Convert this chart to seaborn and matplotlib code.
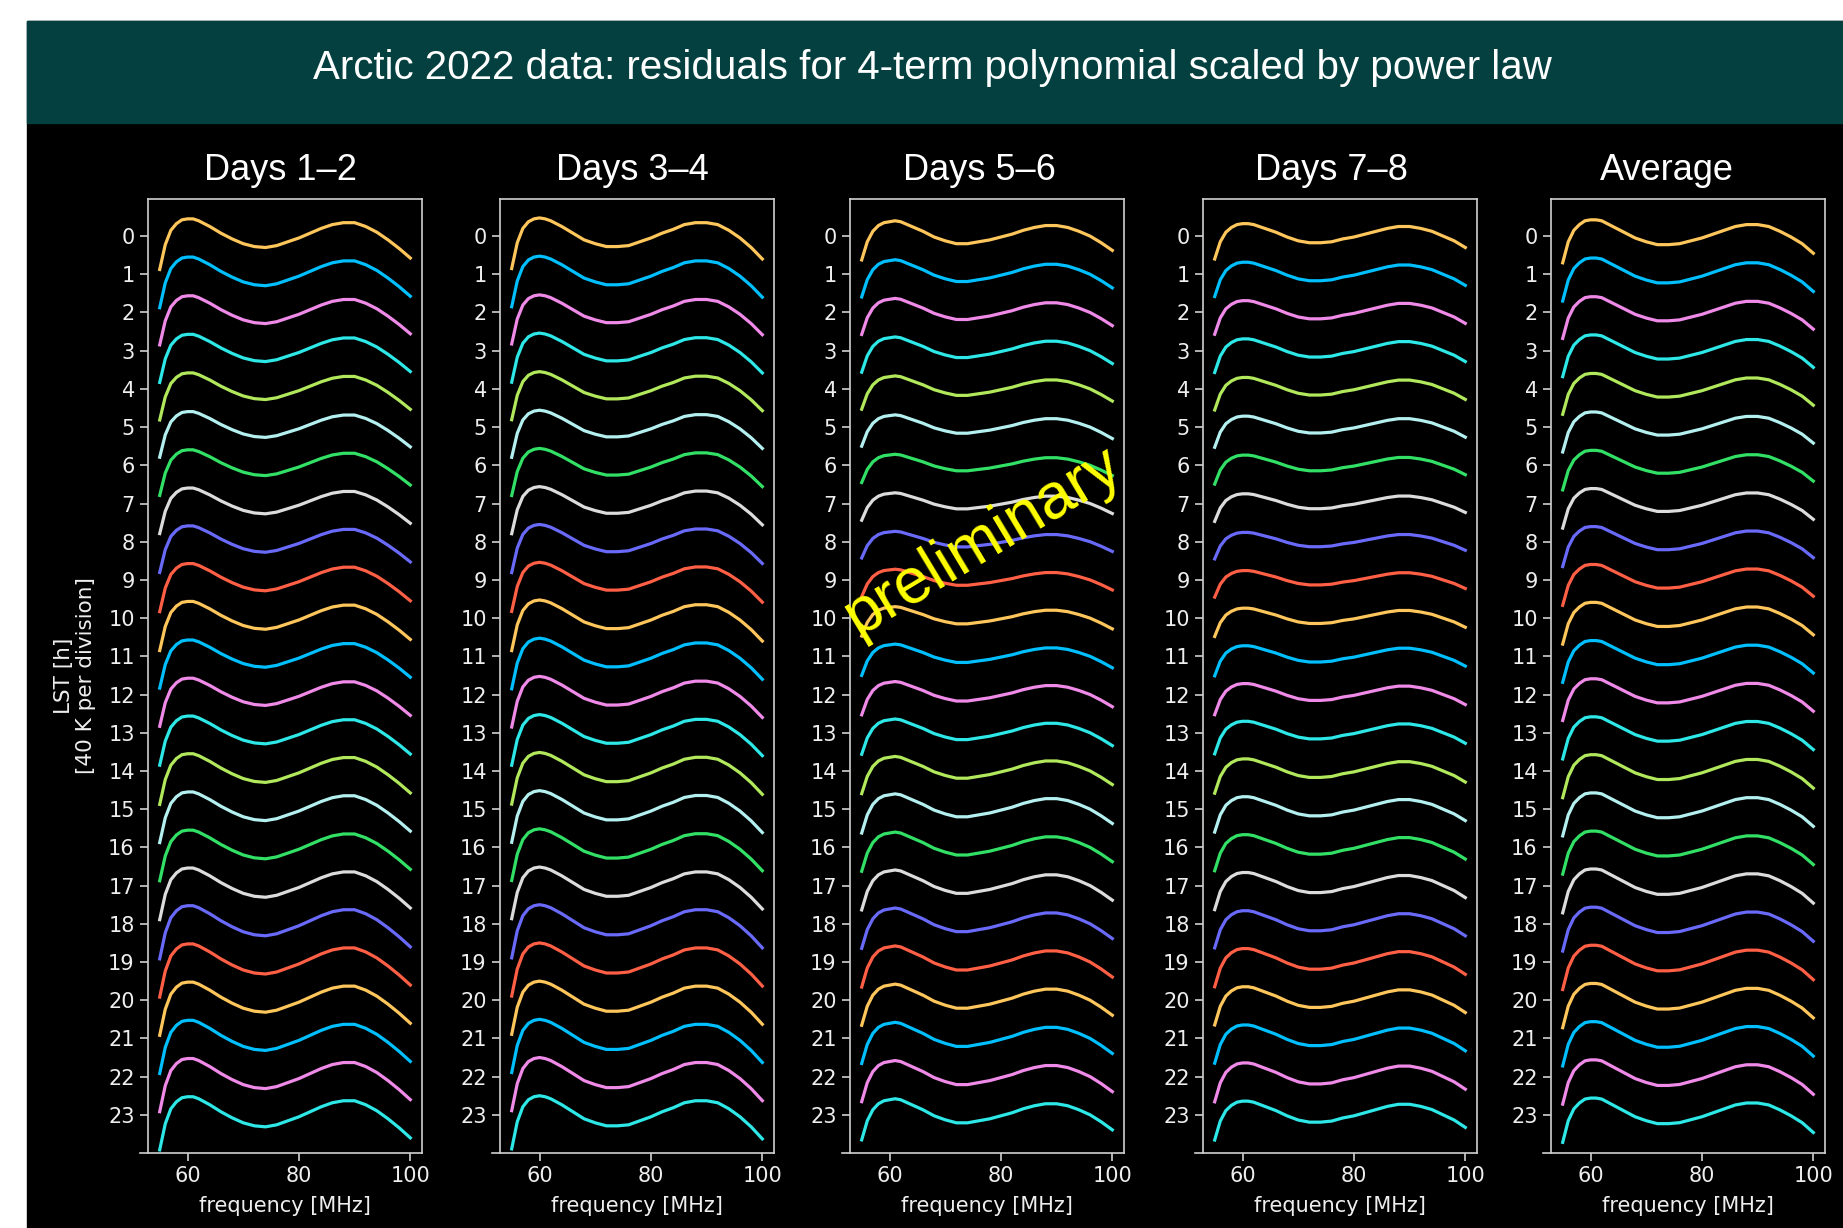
import numpy as np
import pandas as pd
import seaborn as sns
import matplotlib.pyplot as plt
from matplotlib.patches import Rectangle

# frequency grid [MHz] and residual profiles [K]
freq = [55, 56, 57, 58, 59, 60, 61, 62, 64, 66, 68, 70, 72, 74, 76, 78, 80,
        82, 84, 86, 88, 90, 92, 94, 96, 98, 100]

panels = ["Days 1\u20132", "Days 3\u20134", "Days 5\u20136", "Days 7\u20138", "Average"]

resid_d12 = [-35, -9, 6, 13, 17, 18, 18, 16, 10, 3, -3, -8, -11, -12, -10, -6, -2,
             3, 8, 12, 14, 14, 10, 4, -4, -13, -23]
resid_d34 = [-34, -7, 8, 15, 18, 19, 18, 16, 10, 3, -4, -8, -11, -11, -10, -6, -2,
             3, 7, 12, 14, 14, 12, 6, -2, -12, -24]
resid_d56 = [-25, -6, 5, 11, 14, 15, 16, 15, 10, 5, -1, -5, -8, -8, -6, -4, -1,
             2, 6, 9, 11, 11, 9, 5, 0, -7, -15]
resid_d78 = [-24, -6, 4, 9, 12, 13, 13, 12, 8, 4, -1, -5, -7, -7, -6, -3, -1,
             2, 5, 8, 10, 10, 8, 5, 0, -5, -12]
resid_avg = [-28, -6, 6, 12, 16, 17, 17, 16, 10, 4, -2, -6, -9, -9, -8, -5, -2,
             2, 6, 10, 12, 12, 10, 5, -1, -8, -18]

# relative amplitude of each LST curve per panel
gain_d12 = [1.0, 1.0, 0.97, 0.95, 0.93, 0.9, 0.9, 0.9, 0.92, 0.95, 0.97, 0.95,
            0.95, 0.97, 1.0, 1.0, 1.0, 1.02, 1.05, 1.05, 1.05, 1.05, 1.05, 1.05]
gain_d34 = [1.0, 1.0, 0.97, 0.97, 0.95, 0.93, 0.93, 0.93, 0.95, 0.97, 1.0, 1.0,
            1.0, 1.0, 1.02, 1.02, 1.02, 1.02, 1.05, 1.05, 1.05, 1.05, 1.05, 1.05]
gain_d56 = [1.0, 0.95, 0.92, 0.9, 0.85, 0.8, 0.72, 0.7, 0.68, 0.7, 0.75, 0.8,
            0.85, 0.9, 0.95, 1.0, 1.0, 1.02, 1.03, 1.05, 1.05, 1.05, 1.05, 1.05]
gain_d78 = [1.0, 0.97, 0.95, 0.95, 0.92, 0.88, 0.82, 0.78, 0.75, 0.75, 0.8, 0.85,
            0.88, 0.92, 0.97, 1.0, 1.02, 1.05, 1.05, 1.08, 1.08, 1.08, 1.1, 1.1]
gain_avg = [1.0, 1.0, 0.97, 0.97, 0.95, 0.93, 0.92, 0.92, 0.93, 0.95, 0.97, 0.97,
            0.97, 0.98, 1.0, 1.0, 1.0, 1.02, 1.02, 1.03, 1.03, 1.03, 1.03, 1.03]

lst = list(range(24))
colors10 = ["#FFC65C", "#00BFFF", "#F08AE8", "#2EE8E8", "#B2E85C",
            "#B4F0F0", "#33E066", "#DCDCDC", "#6A6AFA", "#FF5F45"]

profiles = [resid_d12, resid_d34, resid_d56, resid_d78, resid_avg]
gains = [gain_d12, gain_d34, gain_d56, gain_d78, gain_avg]

rows = []
for name, prof, gain in zip(panels, profiles, gains):
    for h in lst:
        for f, r in zip(freq, prof):
            # 40 K per division, LST offset downward
            rows.append((name, h, f, h - gain[h] * r / 40.0))
df = pd.DataFrame(rows, columns=["panel", "lst", "freq", "y"])
palette = {h: colors10[h % 10] for h in lst}

plt.rcParams["font.family"] = ["DejaVu Sans"]
W, H = 1843, 1228
fig = plt.figure(figsize=(W / 100, H / 100), dpi=100, facecolor="white")

# slide background: black body, teal title bar
fig.patches.append(Rectangle((27 / W, 0), 1 - 27 / W, 1 - 21 / H,
                             transform=fig.transFigure, color="black", zorder=-2))
fig.patches.append(Rectangle((27 / W, 1 - 123 / H), 1 - 27 / W, 102 / H,
                             transform=fig.transFigure, color="#03403F", zorder=-1))
fig.text(0.506, 1 - 79 / H,
         "Arctic 2022 data: residuals for 4-term polynomial scaled by power law",
         ha="center", va="baseline", color="white", fontsize=29,
         family=["Liberation Sans", "DejaVu Sans"])

lefts = [148, 500, 850, 1203, 1551]
title_x = [0.482, 0.482, 0.474, 0.467, 0.423]
spine_c = "#D0D0D0"
for i, (name, x0) in enumerate(zip(panels, lefts)):
    ax = fig.add_axes([x0 / W, 1 - 1153 / H, 274 / W, 954 / H])
    ax.set_facecolor("black")
    sns.lineplot(data=df[df["panel"] == name], x="freq", y="y", hue="lst",
                 palette=palette, legend=False, estimator=None, linewidth=2.3,
                 ax=ax)
    ax.set_xlim(52.9, 102.1)
    ax.set_ylim(24.0, -0.97)
    ax.set_xticks([60, 80, 100])
    ax.set_yticks(lst)
    ax.tick_params(colors=spine_c, labelcolor="#EEEEEE", labelsize=15,
                   length=6, width=1.2)
    for s in ax.spines.values():
        s.set_color(spine_c)
        s.set_linewidth(1.2)
    ax.spines["bottom"].set_bounds(51.4, 102.1)
    ax.set_xlabel("frequency [MHz]", color="#EEEEEE", fontsize=15, labelpad=7)
    if i == 0:
        ax.set_ylabel("LST [h]\n[40 K per division]", color="#EEEEEE",
                      fontsize=15.5, linespacing=1.1, labelpad=9)
    else:
        ax.set_ylabel("")
    ax.set_title(name, color="white", fontsize=26, pad=14, x=title_x[i],
                 family=["Liberation Sans", "DejaVu Sans"])

fig.text(983 / W, 1 - 541 / H, "preliminary", color="#FFFF00", fontsize=46,
         rotation=31, ha="center", va="center", rotation_mode="anchor",
         family=["Liberation Sans", "DejaVu Sans"], zorder=10)

fig.savefig("out.png", dpi=100, facecolor=fig.get_facecolor())
